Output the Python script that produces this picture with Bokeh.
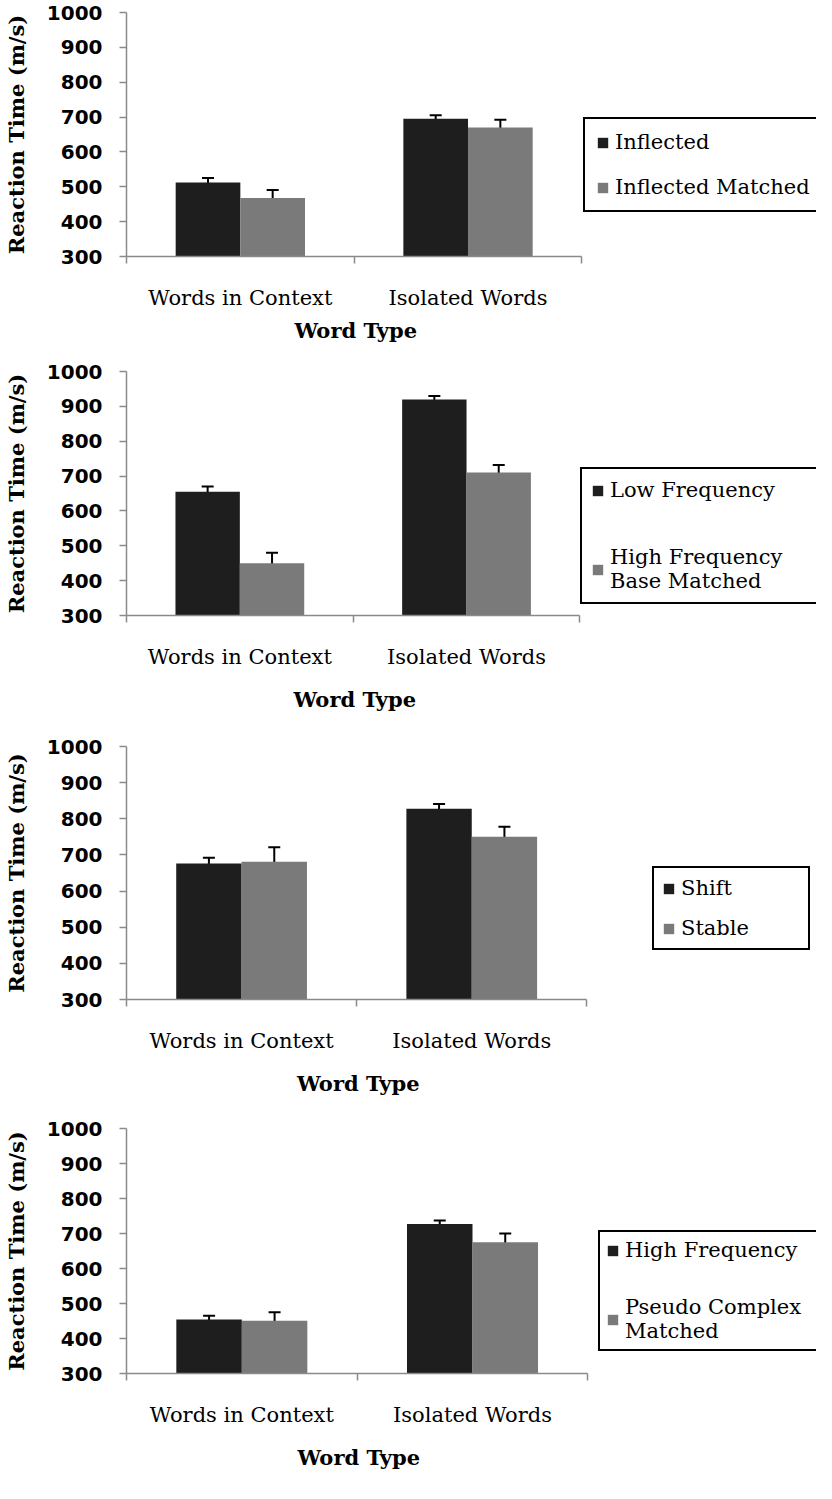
from bokeh.plotting import figure
from bokeh.models import (ColumnDataSource, Range1d, FixedTicker, Whisker, TeeHead,
                          Legend, LegendItem, Title)
from bokeh.layouts import column
from bokeh.embed import file_html
from bokeh.resources import INLINE

# ---------------- data ----------------
categories = ["Words in Context", "Isolated Words"]
y_ticks = [300, 400, 500, 600, 700, 800, 900, 1000]
x_title = "Word Type"
y_title = "Reaction Time (m/s)"

p1_names = ["Inflected", "Inflected Matched"]
p1_dark = [512, 695]
p1_dark_err = [13, 10]
p1_grey = [468, 670]
p1_grey_err = [23, 22]

p2_names = ["Low Frequency", "High Frequency\nBase Matched"]
p2_dark = [655, 920]
p2_dark_err = [15, 10]
p2_grey = [450, 710]
p2_grey_err = [30, 22]

p3_names = ["Shift", "Stable"]
p3_dark = [676, 828]
p3_dark_err = [16, 13]
p3_grey = [681, 750]
p3_grey_err = [40, 28]

p4_names = ["High Frequency", "Pseudo Complex\nMatched"]
p4_dark = [454, 727]
p4_dark_err = [11, 10]
p4_grey = [451, 675]
p4_grey_err = [24, 25]

# ---------------- style / layout ----------------
DARK = "#1e1e1e"
GREY = "#7a7a7a"
AXIS = "#8a8a8a"
SERIF = "DejaVu Serif"
SANS = "DejaVu Sans"
BAR_OFF = 0.142
BAR_W = 0.284
PAGE_W = 816
LEFT = 122
FRAME_W = PAGE_W - LEFT   # frame spans to the right edge; axis line bounded to the data
XTITLE_W = 122            # approx. rendered width of the x title

panels = [
    dict(names=p1_names, dark=p1_dark, de=p1_dark_err, grey=p1_grey, ge=p1_grey_err,
         height=350, top=12, fh=244, fw=458, loc=(457, 44), pad=11, spacing=21,
         lh=24, lw=195, tstand=7),
    dict(names=p2_names, dark=p2_dark, de=p2_dark_err, grey=p2_grey, ge=p2_grey_err,
         height=375, top=21, fh=244, fw=456, loc=(454, 11), pad=9, spacing=43,
         lh=24, lw=203, tstand=27),
    dict(names=p3_names, dark=p3_dark, de=p3_dark_err, grey=p3_grey, ge=p3_grey_err,
         height=384, top=21, fh=253, fw=463, loc=(526, 49), pad=8, spacing=16,
         lh=22, lw=119, tstand=27),
    dict(names=p4_names, dark=p4_dark, de=p4_dark_err, grey=p4_grey, ge=p4_grey_err,
         height=374, top=19, fh=245, fw=464, loc=(472, 22), pad=6, spacing=33,
         lh=24, lw=186, tstand=27),
]


def make_panel(cfg):
    n = len(categories)
    x_end = n * FRAME_W / cfg["fw"]
    p = figure(width=PAGE_W, height=cfg["height"], output_backend="svg",
               toolbar_location=None, x_range=Range1d(0, x_end),
               y_range=Range1d(300, 1000),
               min_border_left=LEFT, min_border_top=cfg["top"],
               min_border_right=0,
               min_border_bottom=cfg["height"] - cfg["top"] - cfg["fh"])
    p.outline_line_color = None
    p.grid.visible = False
    p.background_fill_color = "white"

    centers = [i + 0.5 for i in range(n)]
    src_d = ColumnDataSource(dict(
        x=[c - BAR_OFF for c in centers], top=cfg["dark"],
        upper=[v + e for v, e in zip(cfg["dark"], cfg["de"])],
        lower=[v - e for v, e in zip(cfg["dark"], cfg["de"])]))
    src_g = ColumnDataSource(dict(
        x=[c + BAR_OFF for c in centers], top=cfg["grey"],
        upper=[v + e for v, e in zip(cfg["grey"], cfg["ge"])],
        lower=[v - e for v, e in zip(cfg["grey"], cfg["ge"])]))

    r_d = p.vbar(x="x", top="top", bottom=300, width=BAR_W, source=src_d,
                 fill_color=DARK, line_color=None)
    r_g = p.vbar(x="x", top="top", bottom=300, width=BAR_W, source=src_g,
                 fill_color=GREY, line_color=None)

    for src in (src_d, src_g):
        w = Whisker(source=src, base="x", upper="upper", lower="lower",
                    line_color="black", line_width=2,
                    upper_head=TeeHead(size=12, line_color="black", line_width=2),
                    lower_head=TeeHead(size=12, line_color="black", line_width=2))
        p.add_layout(w)

    # x axis: category labels at centres, boundary ticks as minor ticks
    xa = p.xaxis[0]
    xa.bounds = (0, n)
    xa.ticker = FixedTicker(ticks=centers, minor_ticks=list(range(n + 1)))
    xa.major_label_overrides = {c: cat for c, cat in zip(centers, categories)}
    xa.major_tick_out = 0
    xa.major_tick_in = 0
    xa.minor_tick_out = 7
    xa.minor_tick_in = 0
    xa.minor_tick_line_color = AXIS
    xa.minor_tick_line_width = 1.5
    xa.axis_line_color = AXIS
    xa.axis_line_width = 1.5
    xa.major_label_text_font = SERIF
    xa.major_label_text_font_size = "21px"
    xa.major_label_text_color = "black"
    xa.major_label_standoff = 22

    # x title centred under the data area (not the full frame)
    t = Title(text=x_title, align="left", offset=cfg["fw"] / 2 - XTITLE_W / 2,
              standoff=cfg["tstand"], text_font=SERIF, text_font_style="bold",
              text_font_size="21px", text_color="black")
    p.add_layout(t, "below")

    ya = p.yaxis[0]
    ya.ticker = FixedTicker(ticks=y_ticks)
    ya.minor_tick_line_color = None
    ya.major_tick_out = 7
    ya.major_tick_in = 0
    ya.major_tick_line_color = AXIS
    ya.major_tick_line_width = 1.5
    ya.axis_line_color = AXIS
    ya.axis_line_width = 1.5
    ya.major_label_text_font = SANS
    ya.major_label_text_font_style = "bold"
    ya.major_label_text_font_size = "20px"
    ya.major_label_text_color = "black"
    ya.major_label_standoff = 17
    ya.axis_label = y_title
    ya.axis_label_text_font = SERIF
    ya.axis_label_text_font_style = "bold"
    ya.axis_label_text_font_size = "21px"
    ya.axis_label_text_color = "black"
    ya.axis_label_standoff = 15

    legend = Legend(items=[LegendItem(label=cfg["names"][0], renderers=[r_d]),
                           LegendItem(label=cfg["names"][1], renderers=[r_g])],
                    location=cfg["loc"], margin=0, padding=cfg["pad"],
                    spacing=cfg["spacing"], glyph_width=13, glyph_height=13,
                    label_standoff=6, label_height=cfg["lh"], label_width=cfg["lw"],
                    label_text_font=SERIF, label_text_font_size="21px",
                    label_text_color="black",
                    border_line_color="black", border_line_width=2,
                    border_line_alpha=1.0,
                    background_fill_color="white", background_fill_alpha=1.0)
    p.add_layout(legend)
    return p


figs = [make_panel(cfg) for cfg in panels]
layout = column(*figs, spacing=0)

open("out.html", "w").write(file_html(layout, INLINE))
